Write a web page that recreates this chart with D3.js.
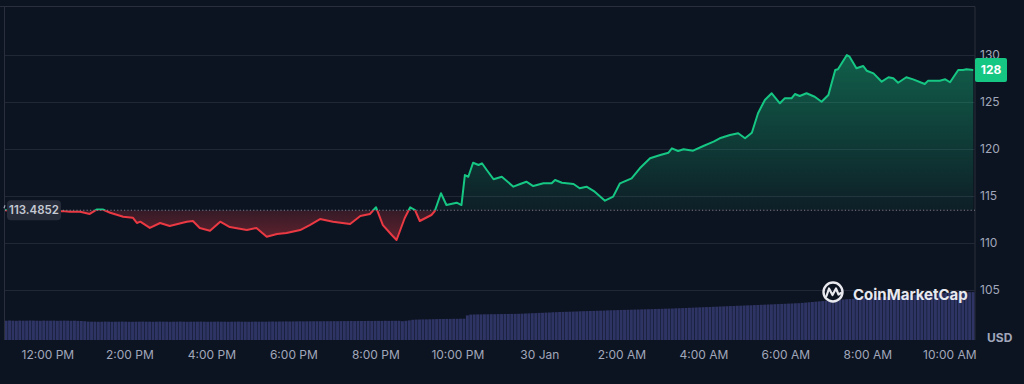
<!DOCTYPE html>
<html><head><meta charset="utf-8">
<script src="https://cdn.jsdelivr.net/npm/d3@7/dist/d3.min.js"></script>
<style>
html,body{margin:0;padding:0;background:#0d1421;}
svg{display:block;}
</style></head>
<body>
<svg id="c" width="1024" height="384"></svg>
<script>
const priceTimes = ["2025-01-29T10:58","2025-01-29T11:35","2025-01-29T12:21","2025-01-29T12:33","2025-01-29T12:48","2025-01-29T13:02","2025-01-29T13:12","2025-01-29T13:21","2025-01-29T13:32","2025-01-29T13:51","2025-01-29T14:05","2025-01-29T14:11","2025-01-29T14:16","2025-01-29T14:30","2025-01-29T14:45","2025-01-29T14:59","2025-01-29T15:24","2025-01-29T15:33","2025-01-29T15:43","2025-01-29T15:58","2025-01-29T16:13","2025-01-29T16:27","2025-01-29T16:52","2025-01-29T17:06","2025-01-29T17:21","2025-01-29T17:36","2025-01-29T17:50","2025-01-29T18:10","2025-01-29T18:24","2025-01-29T18:39","2025-01-29T18:58","2025-01-29T19:23","2025-01-29T19:38","2025-01-29T19:52","2025-01-29T20:01","2025-01-29T20:11","2025-01-29T20:24","2025-01-29T20:31","2025-01-29T20:43","2025-01-29T20:51","2025-01-29T20:58","2025-01-29T21:05","2025-01-29T21:22","2025-01-29T21:27","2025-01-29T21:36","2025-01-29T21:44","2025-01-29T21:59","2025-01-29T22:06","2025-01-29T22:11","2025-01-29T22:16","2025-01-29T22:23","2025-01-29T22:31","2025-01-29T22:36","2025-01-29T22:43","2025-01-29T22:53","2025-01-29T23:05","2025-01-29T23:22","2025-01-29T23:32","2025-01-29T23:41","2025-01-29T23:51","2025-01-30T00:06","2025-01-30T00:18","2025-01-30T00:23","2025-01-30T00:33","2025-01-30T00:50","2025-01-30T00:59","2025-01-30T01:09","2025-01-30T01:21","2025-01-30T01:36","2025-01-30T01:48","2025-01-30T01:58","2025-01-30T02:15","2025-01-30T02:27","2025-01-30T02:42","2025-01-30T02:57","2025-01-30T03:09","2025-01-30T03:14","2025-01-30T03:23","2025-01-30T03:31","2025-01-30T03:45","2025-01-30T04:00","2025-01-30T04:15","2025-01-30T04:24","2025-01-30T04:39","2025-01-30T04:51","2025-01-30T05:01","2025-01-30T05:11","2025-01-30T05:20","2025-01-30T05:30","2025-01-30T05:40","2025-01-30T05:52","2025-01-30T05:59","2025-01-30T06:09","2025-01-30T06:14","2025-01-30T06:21","2025-01-30T06:31","2025-01-30T06:43","2025-01-30T06:53","2025-01-30T07:03","2025-01-30T07:13","2025-01-30T07:17","2025-01-30T07:30","2025-01-30T07:34","2025-01-30T07:44","2025-01-30T07:54","2025-01-30T07:59","2025-01-30T08:09","2025-01-30T08:21","2025-01-30T08:31","2025-01-30T08:38","2025-01-30T08:45","2025-01-30T08:57","2025-01-30T09:07","2025-01-30T09:24","2025-01-30T09:29","2025-01-30T09:46","2025-01-30T09:54","2025-01-30T10:01","2025-01-30T10:13","2025-01-30T10:20","2025-01-30T10:25","2025-01-30T10:35"];
const priceValues = [113.49,113.35,113.40,113.32,113.33,113.09,113.56,113.56,113.22,112.80,112.69,112.13,112.27,111.60,112.13,111.81,112.27,112.34,111.60,111.31,112.27,111.70,111.38,111.60,110.67,110.96,111.06,111.38,111.91,112.55,112.27,112.02,112.87,113.09,113.80,111.91,110.85,110.32,112.66,113.80,113.51,112.34,112.98,113.40,115.29,114.04,114.29,114.04,117.23,117.05,118.54,118.30,118.48,117.77,116.78,117.05,115.99,116.28,116.52,116.06,116.35,116.35,116.70,116.41,116.28,115.82,115.99,115.46,114.50,114.93,116.35,116.88,117.95,119.01,119.36,119.61,120.07,119.79,119.97,119.82,120.32,120.78,121.14,121.49,121.67,121.14,121.73,123.80,125.21,125.93,124.86,125.39,125.39,125.85,125.64,125.93,125.56,125.03,125.74,128.40,128.48,130.00,129.82,128.59,128.83,128.33,128.05,127.16,127.63,127.52,127.05,127.63,127.41,126.91,127.27,127.27,127.41,127.10,128.40,128.40,128.48,128.40];
const baselinePrice = 113.4852;
const priceTicks = [105,110,115,120,125,130];
const currencyLabel = "USD";
const lastLabel = "128";
const volumeStart = "2025-01-29T10:55";
const volumeValues = [19.4,19.3,19.5,19.3,19.2,19.4,19.3,19.3,19.5,19.4,19.3,19.2,19.4,19.3,19.3,19.4,19.2,19.3,19.4,19.3,19.2,19.3,19.1,19.0,18.8,
18.4,18.3,18.3,18.2,18.3,18.4,18.3,18.2,18.3,18.3,18.4,18.3,18.2,18.2,18.3,18.3,18.4,18.3,18.3,18.2,18.3,18.4,18.3,18.3,18.2,18.3,18.3,18.4,18.3,18.2,18.3,18.3,18.3,18.4,18.3,18.2,18.3,18.3,18.4,18.3,18.3,18.2,18.3,18.3,18.4,18.3,18.3,18.2,18.3,18.4,18.3,18.3,18.3,18.4,18.5,18.4,18.5,18.5,18.6,18.5,18.6,18.6,18.7,18.6,18.7,18.7,18.7,18.8,18.7,18.8,18.8,18.8,18.9,18.8,18.9,18.9,18.9,19.0,18.9,19.0,19.0,19.0,19.1,19.0,19.1,19.1,19.1,19.2,19.1,19.2,19.2,19.2,
18.8,19.2,19.6,
20.2,20.4,20.5,20.6,20.6,20.7,20.8,
20.9,21.0,21.0,21.1,21.1,21.2,21.2,21.3,21.3,
24.6,
25.4,25.5,25.6,25.6,25.7,25.7,25.8,25.8,25.9,25.9,26.0,26.0,26.1,26.1,26.2,
26.3,26.5,26.6,26.8,26.9,27.1,27.2,27.4,27.5,27.7,27.8,28.0,
28.1,28.2,28.3,28.4,28.5,28.7,28.8,28.9,29.0,29.1,29.2,29.3,29.4,29.6,29.7,29.8,29.9,
30.0,30.1,30.2,30.3,30.4,30.5,30.6,30.7,30.8,30.9,31.0,31.1,31.2,31.3,31.4,31.5,31.7,31.8,31.9,32.0,32.2,32.3,32.5,32.6,
32.8,32.9,33.0,33.2,33.3,33.5,33.6,33.8,33.9,34.0,34.2,34.3,34.5,34.6,34.7,34.9,35.0,
35.2,35.3,35.5,35.6,35.8,35.9,36.1,36.2,36.4,36.5,36.7,36.8,
37.1,37.4,37.7,38.0,38.3,38.6,38.9,39.2,39.5,39.8,40.0,40.3,40.5,40.8,41.0,
41.2,41.4,41.6,41.9,42.1,42.3,42.5,42.7,42.9,43.1,43.3,43.5,43.7,43.9,
44.1,44.4,44.6,44.9,45.1,45.4,45.6,45.9,46.1,46.4,46.6,46.9,
47.0,47.1,47.2,47.3,47.4,47.5,47.6,47.7,47.8,47.9,48.0];
const timeDomain = ["2025-01-29T10:58","2025-01-30T10:39"];

const parse = d3.timeParse("%Y-%m-%dT%H:%M");
const prices = priceTimes.map((t,i)=>({t:parse(t), v:priceValues[i]}));
const vStart = parse(volumeStart);
const vols = volumeValues.map((v,i)=>({t:d3.timeMinute.offset(vStart,5*i), v}));

const L=5, R=975, T=7, B=340;
const svg = d3.select("#c");
const font = "Inter, 'Noto Sans', sans-serif";
const x = d3.scaleTime().domain(timeDomain.map(parse)).range([L, 976]);
const y = d3.scaleLinear().domain([105,130]).range([290,55]);
const yv = d3.scaleLinear().domain([0,50]).range([B,290]);
const yBase = y(baselinePrice);

svg.append("rect").attr("width",1024).attr("height",384).attr("fill","#0d1421");

const defs = svg.append("defs");
defs.append("clipPath").attr("id","plot").append("rect").attr("x",L).attr("y",T).attr("width",R-L).attr("height",B-T);
defs.append("clipPath").attr("id","above").append("rect").attr("x",L).attr("y",T).attr("width",R-L).attr("height",yBase-T);
defs.append("clipPath").attr("id","below").append("rect").attr("x",L).attr("y",yBase).attr("width",R-L).attr("height",B-yBase);
const gg = defs.append("linearGradient").attr("id","gGreen").attr("gradientUnits","userSpaceOnUse")
  .attr("x1",0).attr("x2",0).attr("y1",y(130)).attr("y2",yBase);
gg.append("stop").attr("offset",0).attr("stop-color","#16c784").attr("stop-opacity",0.42);
gg.append("stop").attr("offset",1).attr("stop-color","#16c784").attr("stop-opacity",0.06);
const gr = defs.append("linearGradient").attr("id","gRed").attr("gradientUnits","userSpaceOnUse")
  .attr("x1",0).attr("x2",0).attr("y1",yBase).attr("y2",y(110));
gr.append("stop").attr("offset",0).attr("stop-color","#ea3943").attr("stop-opacity",0.18);
gr.append("stop").attr("offset",1).attr("stop-color","#ea3943").attr("stop-opacity",0.4);

// frame
svg.append("path").attr("d",`M0,6.5H${R}V${B}`).attr("fill","none").attr("stroke","#2a2f3b").attr("stroke-width",1);
svg.append("line").attr("x1",4.5).attr("x2",4.5).attr("y1",6.5).attr("y2",B).attr("stroke","#2a2f3b");

// grid
svg.append("g").selectAll("line").data(priceTicks).join("line")
  .attr("x1",L).attr("x2",R).attr("y1",d=>Math.round(y(d))+0.5).attr("y2",d=>Math.round(y(d))+0.5)
  .attr("stroke","#222737").attr("stroke-width",1);

// volume
const step = x(d3.timeMinute.offset(vStart,5)) - x(vStart);
svg.append("g").attr("clip-path","url(#plot)").selectAll("rect").data(vols).join("rect")
  .attr("x",d=>x(d.t)-step/2).attr("width",step-0.5)
  .attr("y",d=>yv(d.v)).attr("height",d=>B-yv(d.v))
  .attr("fill","#2e3565");

// logo
const lg = svg.append("g");
lg.append("circle").attr("cx",833).attr("cy",292).attr("r",9.5).attr("fill","none").attr("stroke","#e8e9ee").attr("stroke-width",2.4);
lg.append("path").attr("d","M826.5,296 L829,288.5 L832.5,295 L836,288.5 L838.5,294.5 L841,293")
  .attr("fill","none").attr("stroke","#e8e9ee").attr("stroke-width",2.2).attr("stroke-linejoin","round").attr("stroke-linecap","round");
lg.append("text").attr("x",853).attr("y",299.5).text("CoinMarketCap")
  .attr("fill","#e8e9ee").attr("font-family",font).attr("font-weight",700).attr("font-size",15);

// areas
const area = d3.area().x(d=>x(d.t)).y0(yBase).y1(d=>y(d.v));
const line = d3.line().x(d=>x(d.t)).y(d=>y(d.v));
const pg = svg.append("g").attr("clip-path","url(#plot)");
pg.append("g").attr("clip-path","url(#above)").append("path").datum(prices).attr("d",area).attr("fill","url(#gGreen)");
pg.append("g").attr("clip-path","url(#below)").append("path").datum(prices).attr("d",area).attr("fill","url(#gRed)");

// baseline dotted
svg.append("line").attr("x1",L).attr("x2",R).attr("y1",yBase).attr("y2",yBase)
  .attr("stroke","#a1a7bb").attr("stroke-opacity",0.7).attr("stroke-width",1).attr("stroke-dasharray","1.2,2.2");

pg.append("g").attr("clip-path","url(#above)").append("path").datum(prices).attr("d",line)
  .attr("fill","none").attr("stroke","#16c784").attr("stroke-width",2).attr("stroke-linejoin","round");
pg.append("g").attr("clip-path","url(#below)").append("path").datum(prices).attr("d",line)
  .attr("fill","none").attr("stroke","#ea3943").attr("stroke-width",2).attr("stroke-linejoin","round");

// y axis labels
const yAxis = d3.axisRight(y).tickValues(priceTicks).tickSize(0).tickPadding(0);
const ya = svg.append("g").attr("transform","translate(980,0)").call(yAxis);
ya.select(".domain").remove();
ya.selectAll("text").attr("fill","#a1a7bb").attr("font-family",font).attr("font-size",12);

// x axis
const fmt = d => (d.getHours()===0 ? d3.timeFormat("%-d %b")(d) : d3.timeFormat("%-I:%M %p")(d));
const xAxis = d3.axisBottom(x).ticks(d3.timeHour.every(2)).tickFormat(fmt).tickSize(0).tickPadding(0);
const xa = svg.append("g").attr("transform","translate(0,350)").call(xAxis);
xa.select(".domain").remove();
xa.selectAll("text").attr("fill","#a1a7bb").attr("font-family",font).attr("font-size",12).attr("dy","0.71em");

svg.append("text").attr("x",987).attr("y",342).text(currencyLabel)
  .attr("fill","#a1a7bb").attr("font-family",font).attr("font-weight",700).attr("font-size",12);

// last price badge
const last = prices[prices.length-1];
const yl = y(last.v);
svg.append("rect").attr("x",975).attr("y",yl-12).attr("width",32).attr("height",24).attr("rx",2).attr("fill","#16c784");
svg.append("text").attr("x",991).attr("y",yl).attr("dy","0.35em").attr("text-anchor","middle").text(lastLabel)
  .attr("fill","#ffffff").attr("font-family",font).attr("font-weight",700).attr("font-size",12);

// baseline label
svg.append("rect").attr("x",7).attr("y",yBase-10).attr("width",54).attr("height",20).attr("rx",4).attr("fill","#272c3a");
svg.append("text").attr("x",34).attr("y",yBase).attr("dy","0.35em").attr("text-anchor","middle").text(baselinePrice.toFixed(4))
  .attr("fill","#c5c9d3").attr("font-family",font).attr("font-weight",600).attr("font-size",11.5);
svg.append("line").attr("x1",5).attr("x2",4).attr("y1",yBase-5).attr("y2",yBase-2).attr("stroke","#a1a7bb").attr("stroke-width",1.2);
</script>
</body></html>
